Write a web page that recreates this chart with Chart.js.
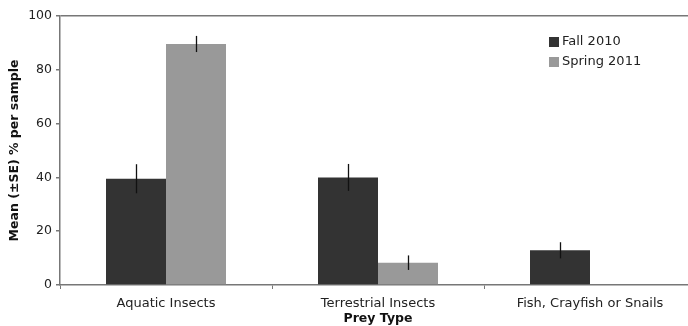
<!DOCTYPE html>
<html>
<head>
<meta charset="utf-8">
<script src="https://cdn.jsdelivr.net/npm/chart.js@4.4.0/dist/chart.umd.min.js"></script>
<style>
  html, body { margin: 0; padding: 0; background: #fff; overflow: hidden; }
  #wrap { width: 700px; height: 326px; }
</style>
</head>
<body>
<div id="wrap"><canvas id="chart" width="700" height="326"></canvas></div>
<script>
const categories = ["Aquatic Insects", "Terrestrial Insects", "Fish, Crayfish or Snails"];
const fallValues = [39.5, 40, 12.9];
const fallErrors = [5.4, 5, 3];
const springValues = [89.6, 8.3, 0];
const springErrors = [3, 2.7, 0];
const seriesNames = ["Fall 2010", "Spring 2011"];
const yTicks = [0, 20, 40, 60, 80, 100];

const FONT = "'DejaVu Sans', Verdana, sans-serif";
const AXIS = "#777";

// whiskers drawn through the y scale
const errorBars = {
  id: "errorBars",
  afterDatasetsDraw(chart) {
    const ctx = chart.ctx;
    const y = chart.scales.y;
    ctx.save();
    ctx.strokeStyle = "#111";
    ctx.lineWidth = 1.3;
    chart.data.datasets.forEach((ds, i) => {
      const meta = chart.getDatasetMeta(i);
      meta.data.forEach((bar, j) => {
        const err = ds.errors[j];
        if (!err) return;
        const x = Math.round(bar.x) + 0.5;
        ctx.beginPath();
        ctx.moveTo(x, y.getPixelForValue(ds.data[j] + err));
        ctx.lineTo(x, y.getPixelForValue(ds.data[j] - err));
        ctx.stroke();
      });
    });
    ctx.restore();
  }
};

// small legend inside the plot, top right
const boxLegend = {
  id: "boxLegend",
  afterDraw(chart) {
    const ctx = chart.ctx;
    ctx.save();
    ctx.font = "13px " + FONT;
    ctx.textBaseline = "middle";
    chart.data.datasets.forEach((ds, i) => {
      const yy = 42 + i * 20;
      ctx.fillStyle = ds.backgroundColor;
      ctx.fillRect(549, yy - 5, 10, 10);
      ctx.fillStyle = "#222";
      ctx.fillText(ds.label, 562, yy);
    });
    ctx.restore();
  }
};

new Chart(document.getElementById("chart"), {
  type: "bar",
  data: {
    labels: categories,
    datasets: [
      { label: seriesNames[0], data: fallValues, errors: fallErrors, backgroundColor: "#333333" },
      { label: seriesNames[1], data: springValues, errors: springErrors, backgroundColor: "#999999" }
    ]
  },
  options: {
    responsive: false,
    animation: false,
    layout: { padding: { top: 16, right: 4, left: 7, bottom: 0 } },
    datasets: { bar: { barPercentage: 1, categoryPercentage: 0.566 } },
    plugins: { legend: { display: false }, tooltip: { enabled: false } },
    scales: {
      x: {
        grid: { offset: true, drawOnChartArea: false, tickLength: 4, tickColor: AXIS },
        border: { color: AXIS, width: 1.5 },
        ticks: { color: "#222", font: { family: FONT, size: 13 }, padding: 7, maxRotation: 0 },
        title: { display: true, text: "Prey Type", color: "#111", font: { family: FONT, size: 12.5, weight: "bold" }, padding: { top: 0, bottom: 0 } },
        afterFit(s) { s.height = 41; }
      },
      y: {
        min: 0,
        max: 100,
        afterBuildTicks(s) { s.ticks = yTicks.map(v => ({ value: v })); },
        grid: {
          color: c => c.tick && c.tick.value === 100 ? AXIS : "rgba(0,0,0,0)",
          lineWidth: 1.5,
          tickLength: 4,
          tickColor: AXIS
        },
        border: { color: AXIS, width: 1.5 },
        ticks: { color: "#222", font: { family: FONT, size: 12.5 }, padding: 4 },
        title: { display: true, text: "Mean (±SE) % per sample", color: "#111", font: { family: FONT, size: 12.5, weight: "bold" }, padding: { top: 0, bottom: 4 } },
        afterFit(s) { s.width = 53; }
      }
    }
  },
  plugins: [errorBars, boxLegend]
});
</script>
</body>
</html>
